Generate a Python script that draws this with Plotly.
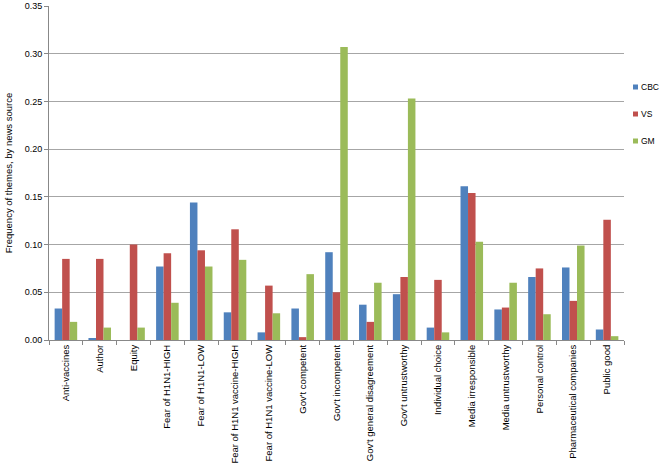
import plotly.graph_objects as go

categories = ["Anti-vaccines", "Author", "Equity", "Fear of H1N1-HIGH", "Fear of H1N1-LOW",
              "Fear of H1N1 vaccine-HIGH", "Fear of H1N1 vaccine-LOW", "Gov't competent",
              "Gov't incompetent", "Gov't general disagreement", "Gov't untrustworthy",
              "Individual choice", "Media irresponsible", "Media untrustworthy",
              "Personal control", "Pharmaceutical companies", "Public good"]
cbc = [0.033, 0.002, 0.000, 0.077, 0.144, 0.029, 0.008, 0.033, 0.092, 0.037, 0.048,
       0.013, 0.161, 0.032, 0.066, 0.076, 0.011]
vs = [0.085, 0.085, 0.100, 0.091, 0.094, 0.116, 0.057, 0.003, 0.050, 0.019, 0.066,
      0.063, 0.154, 0.034, 0.075, 0.041, 0.126]
gm = [0.019, 0.013, 0.013, 0.039, 0.077, 0.084, 0.028, 0.069, 0.307, 0.060, 0.253,
      0.008, 0.103, 0.060, 0.027, 0.099, 0.004]
y_ticks = [0.00, 0.05, 0.10, 0.15, 0.20, 0.25, 0.30, 0.35]

series = [("CBC", cbc, "#4F81BD"), ("VS", vs, "#C0504D"), ("GM", gm, "#9BBB59")]

W, H = 662, 465
L, R, T, B = 49, 38, 6, 125
pw, ph = W - L - R, H - T - B

def px_x(p):
    return (p - L) / pw

def px_y(p):
    return (H - B - p) / ph

fig = go.Figure()
for name, vals, col in series:
    fig.add_trace(go.Bar(x=categories, y=vals, name=name, marker_color=col,
                         marker_line_width=0, showlegend=False))

# legend drawn at the right of the plot area
leg_rows = [87, 114, 141]
for (name, _, col), ry in zip(series, leg_rows):
    fig.add_shape(type="rect", xref="paper", yref="paper",
                  x0=px_x(633), x1=px_x(638), y0=px_y(ry + 2.5), y1=px_y(ry - 2.5),
                  fillcolor=col, line_width=0)
    fig.add_annotation(xref="paper", yref="paper", x=px_x(640), y=px_y(ry),
                       xanchor="left", yanchor="middle", text=name, showarrow=False,
                       borderpad=0, font=dict(size=8.5))

font = "Liberation Sans, Arial, sans-serif"
fig.update_layout(
    width=W, height=H,
    margin=dict(l=L, r=R, t=T, b=B, autoexpand=False),
    paper_bgcolor="white", plot_bgcolor="white",
    barmode="group", bargap=0.333, bargroupgap=0,
    font=dict(family=font, size=9.5, color="#000000"),
    showlegend=False,
)
fig.update_yaxes(range=[0, 0.35], tickvals=y_ticks, ticktext=[f"{v:.2f}" for v in y_ticks],
                 showgrid=True, gridcolor="#A6A6A6", gridwidth=1,
                 showline=True, linecolor="#888888", linewidth=1,
                 ticks="outside", ticklen=4, tickcolor="#888888",
                 zeroline=False, automargin=False,
                 title=dict(text="Frequency of themes, by news source", font=dict(size=9.5), standoff=10),
                 tickfont=dict(size=9))
fig.update_xaxes(tickangle=-90, showline=True, linecolor="#888888", linewidth=1,
                 ticks="outside", ticklen=4, tickcolor="#888888", tickson="boundaries",
                 tickfont=dict(size=9.5), showgrid=False, automargin=False)

fig.write_html("out.html", config={"displayModeBar": False},
               post_script="document.body.style.margin='0';document.body.style.overflow='hidden';")
